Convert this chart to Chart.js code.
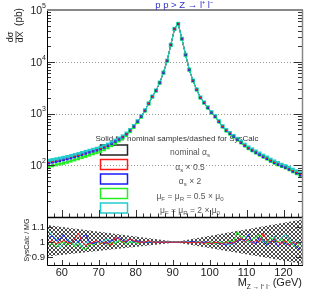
<!DOCTYPE html>
<html><head><meta charset="utf-8">
<script src="https://cdn.jsdelivr.net/npm/chart.js@4.4.0/dist/chart.umd.min.js"></script>
<style>
html,body{margin:0;padding:0;background:#fff;}
#wrap{position:relative;width:318px;height:291px;}
canvas{position:absolute;left:0;top:0;}
</style>
</head><body>
<div id="wrap"><canvas id="main" width="318" height="291"></canvas><canvas id="ratio" width="318" height="291"></canvas></div>
<script>
// ---------- data ----------
const binCenters = [56.5,57.5,58.5,59.5,60.5,61.5,62.5,63.5,64.5,65.5,66.5,67.5,68.5,69.5,70.5,71.5,72.5,73.5,74.5,75.5,76.5,77.5,78.5,79.5,80.5,81.5,82.5,83.5,84.5,85.5,86.5,87.5,88.5,89.5,90.5,91.5,92.5,93.5,94.5,95.5,96.5,97.5,98.5,99.5,100.5,101.5,102.5,103.5,104.5,105.5,106.5,107.5,108.5,109.5,110.5,111.5,112.5,113.5,114.5,115.5,116.5,117.5,118.5,119.5,120.5,121.5,122.5,123.5,124.5];

const nominal = [112,116,120,124,129,134,140,147,154,162, 171,180,189,198,208,222,240,262,290,318, 352,400,470,562,700,875,1140,1560,2120,2770, 3940,6140,10450,21200,43100,53800,27700,13600,7010,4310, 2890,2030,1620,1300,1045,876,700,560,470,410, 361,316,277,243,215,196,178,162,148,136, 123,113,105,98,92,85,78,72,66];
const alphaHalf = [113,117,121,125,130,135,141,148,155,163, 172,181,190,199,209,223,241,263,291,319, 353,401,471,563,701,876,1141,1561,2122,2772, 3942,6145,10460,21220,43120,53820,27710,13605,7015,4312, 2892,2032,1621,1301,1046,877,701,561,471,411, 362,317,278,244,216,197,179,163,149,137, 124,114,106,99,93,86,79,73,67];
const alphaTwice = [109,113,117,121,126,131,137,144,151,159, 168,177,186,195,205,219,237,259,287,315, 349,397,467,558,696,871,1136,1555,2115,2765, 3935,6135,10440,21180,43080,53780,27690,13590,7000,4300, 2880,2022,1612,1292,1038,870,695,556,466,406, 357,312,273,239,212,193,175,159,145,133, 121,111,103,96,90,83,76,70,64];
const muHalf = [95,98,102,106,110,115,121,127,134,141, 149,158,167,176,186,200,218,240,268,296, 330,378,448,540,678,855,1120,1540,2100,2750, 3920,6120,10420,21150,43000,53700,27650,13570,6990,4290, 2875,2015,1605,1285,1032,864,690,551,462,402, 354,309,271,237,210,191,173,158,144,132, 119,110,102,95,89,82,75,69,63];
const muTwice = [122,126,130,134,139,144,150,157,164,172, 181,190,199,208,218,232,250,271,299,327, 361,409,479,571,709,884,1150,1570,2130,2780, 3960,6160,10480,21250,43200,53900,27750,13630,7030,4330, 2905,2042,1632,1312,1056,886,709,568,478,418, 368,323,283,249,221,202,184,168,153,141, 128,118,110,102,96,89,82,76,70];

const ratioAlphaHalf = [1.00,1.01,0.99,1.00,1.01,1.00,0.99,1.02,1.06,1.00, 0.98,0.99,1.00,1.01,0.99,1.00,0.99,0.98,1.03,1.02, 1.00,1.01,1.02,1.01,1.00,1.00,1.00,1.01,1.00,1.00, 1.00,1.00,1.00,1.00,1.00,1.00,1.00,1.00,0.995,1.00, 0.995,1.00,0.99,1.00,0.99,1.00,0.995,0.99,1.00,0.99, 1.00,1.01,1.03,1.00,1.02,0.99,1.01,1.00,1.06,1.01, 0.99,1.02,1.00,0.99,1.01,0.98,1.00,0.99,1.00];
const ratioAlphaTwice = [1.03,1.04,1.01,1.02,1.05,1.01,0.99,1.02,1.00,1.03, 1.05,1.00,0.99,1.00,1.01,0.99,1.00,1.01,1.02,1.03, 1.01,1.00,1.02,1.00,1.01,1.00,1.00,1.00,1.00,1.00, 1.00,1.00,1.00,1.00,1.00,1.00,1.00,1.00,1.00,1.005, 1.00,0.995,1.00,1.00,0.99,1.00,0.99,0.99,0.98,1.00, 0.99,1.01,1.02,1.01,1.05,1.00,0.99,1.03,1.01,0.98, 1.00,1.02,0.97,1.00,0.99,0.98,1.00,0.97,0.95];
const ratioMuHalf = [0.98,0.99,0.97,0.99,1.00,0.98,1.00,0.97,0.99,0.96, 0.95,0.99,0.98,1.00,0.99,1.00,0.98,1.00,0.99,1.01, 1.00,0.99,1.00,1.00,0.99,1.00,1.00,1.00,1.00,1.00, 1.00,1.00,1.00,1.00,1.00,1.00,1.00,1.00,1.00,1.00, 1.00,0.995,1.00,0.99,1.00,0.99,1.00,0.995,1.00,1.01, 1.00,1.07,1.03,1.04,1.00,1.02,1.03,1.05,1.01,0.99, 1.03,1.01,1.00,1.02,0.99,1.01,0.98,0.97,0.99];
const ratioMuTwice = [1.07,1.04,1.02,0.96,0.99,1.02,1.00,0.98,1.01,0.97, 1.00,1.00,0.99,1.00,1.00,1.01,1.02,1.00,1.00,1.01, 1.00,1.02,1.00,1.00,1.00,1.00,1.00,1.00,1.00,1.00, 1.00,1.00,1.00,1.00,1.00,1.00,1.00,1.00,1.00,1.00, 1.00,1.00,0.995,1.00,1.00,0.99,1.00,1.00,0.99,0.98, 1.00,1.01,1.03,1.00,1.01,0.99,1.00,1.02,1.00,1.01, 0.99,1.04,1.00,1.03,1.05,1.02,0.99,1.01,0.98];

const bandX = [56, 91, 125];
const bandUp = [1.113, 1.003, 1.148];
const bandLo = [0.905, 0.997, 0.858];

const xTickLabels = [60,70,80,90,100,110,120];
const yDecades = [2,3,4,5];
const ratioTickLabels = [0.9,1,1.1];

const legendTitle = 'Solid for nominal samples/dashed for SysCalc';
const legendEntries = [
  [['nominal α'],['s',1]],
  [['α'],['s',1],[' × 0.5']],
  [['α'],['s',1],[' × 2']],
  [['μ'],['F',1],[' = μ'],['R',1],[' = 0.5 × μ'],['0',1]],
  [['μ'],['F',1],[' = μ'],['R',1],[' = 2 × μ'],['0',1]]
];

// ---------- style ----------
const FONT = '"Liberation Sans", Arial, Helvetica, sans-serif';
const C_BLACK='#222', C_RED='#ff1a1a', C_BLUE='#1a1aff', C_GREEN='#22ee22', C_CYAN='#22cccc';
const legendColors = [C_BLACK, C_RED, C_BLUE, C_GREEN, C_CYAN];

function pts(xs, ys){ return xs.map((x,i)=>({x:x, y:ys[i]})); }

function drawRich(ctx, parts, cx, cy, size, color){
  const sub = size*0.72;
  let w = 0;
  parts.forEach(p=>{ ctx.font = (p[1]?sub:size)+'px '+FONT; w += ctx.measureText(p[0]).width; });
  let x = cx - w/2;
  ctx.fillStyle = color; ctx.textBaseline='alphabetic'; ctx.textAlign='left';
  parts.forEach(p=>{
    ctx.font = (p[1]?sub:size)+'px '+FONT;
    ctx.fillText(p[0], x, cy + (p[1]? size*0.25 : 0));
    x += ctx.measureText(p[0]).width;
  });
}

const mainDeco = {
  id:'mainDeco',
  beforeDatasetsDraw(chart){
    const ctx = chart.ctx, a = chart.chartArea, ys = chart.scales.y;
    ctx.save();
    ctx.strokeStyle='#999'; ctx.lineWidth=1; ctx.setLineDash([1,2]);
    [2,3,4].forEach(e=>{
      const y = Math.round(ys.getPixelForValue(Math.pow(10,e)))+0.5;
      ctx.beginPath(); ctx.moveTo(a.left,y); ctx.lineTo(a.right,y); ctx.stroke();
    });
    ctx.setLineDash([]);
    ctx.fillStyle='#333'; ctx.font='8px '+FONT; ctx.textAlign='center'; ctx.textBaseline='middle';
    ctx.fillText(legendTitle, 177, 139);
    const rows=[150,164.5,179,193.5,208];
    legendEntries.forEach((parts,i)=>{
      ctx.strokeStyle=legendColors[i]; ctx.lineWidth=1.5;
      ctx.strokeRect(100.5, rows[i]-5, 27, 10);
      drawRich(ctx, parts, 190, rows[i]+5, 8.5, '#555');
    });
    ctx.restore();
  },
  afterDatasetsDraw(chart){
    const ctx = chart.ctx, a = chart.chartArea, ys = chart.scales.y, xs = chart.scales.x;
    ctx.save();
    ctx.strokeStyle='#333'; ctx.lineWidth=1;
    for(let e=1;e<5;e++){
      for(let m=1;m<10;m++){
        const v = m*Math.pow(10,e);
        const y = Math.round(ys.getPixelForValue(v))+0.5;
        const L = (m===1)?8:4;
        ctx.beginPath(); ctx.moveTo(a.left,y); ctx.lineTo(a.left+L,y);
        ctx.moveTo(a.right,y); ctx.lineTo(a.right-L,y); ctx.stroke();
      }
    }
    for(let v=56; v<=125; v+=2){
      const x = Math.round(xs.getPixelForValue(v))+0.5;
      const L = (v%10===0)?7:3.5;
      ctx.beginPath(); ctx.moveTo(x,a.bottom); ctx.lineTo(x,a.bottom-L); ctx.stroke();
    }
    ctx.strokeStyle='#000'; ctx.lineWidth=1;
    ctx.beginPath(); ctx.moveTo(a.left+0.5,a.top); ctx.lineTo(a.left+0.5,a.bottom); ctx.stroke();
    ctx.strokeStyle='#888'; ctx.lineWidth=2;
    ctx.beginPath(); ctx.moveTo(a.left,a.top); ctx.lineTo(a.right+1,a.top); ctx.stroke();
    ctx.lineWidth=1.5;
    ctx.beginPath(); ctx.moveTo(a.right+0.5,a.top); ctx.lineTo(a.right+0.5,a.bottom); ctx.stroke();
    ctx.fillStyle='#222'; ctx.textBaseline='middle';
    yDecades.forEach(e=>{
      const y = ys.getPixelForValue(Math.pow(10,e));
      ctx.font='7px '+FONT; ctx.textAlign='right';
      const sw = ctx.measureText(String(e)).width;
      ctx.fillText(String(e), 46, y-4);
      ctx.font='10.5px '+FONT;
      ctx.fillText('10', 46-sw, y+1);
    });
    ctx.fillStyle='#3535c8'; ctx.font='9.5px '+FONT; ctx.textAlign='center'; ctx.textBaseline='middle';
    ctx.fillText('p p > Z → l⁺ l⁻', 184, 5);
    ctx.save();
    ctx.translate(16,37); ctx.rotate(-Math.PI/2);
    ctx.fillStyle='#222'; ctx.textAlign='center'; ctx.textBaseline='middle';
    ctx.font='9px '+FONT;
    ctx.fillText('dσ',0,-5.5);
    ctx.fillText('dX',0,5);
    ctx.strokeStyle='#222'; ctx.lineWidth=0.8;
    ctx.beginPath(); ctx.moveTo(-6,0); ctx.lineTo(6,0); ctx.stroke();
    ctx.font='10px '+FONT;
    ctx.fillText('(pb)',20,3);
    ctx.restore();
    ctx.restore();
  }
};

// line-only datasets (drawn below), marker-only datasets (drawn above)
function lineOnly(label, data, color, order){
  return {label, data:pts(binCenters,data), borderColor:color, backgroundColor:color,
    pointRadius:0, borderWidth:1, order, fill:false};
}
function markOnly(label, data, color, r, order){
  return {label, data:pts(binCenters,data), borderColor:color, backgroundColor:color,
    pointBackgroundColor:color, pointBorderWidth:0, pointRadius:r, pointStyle:'rect',
    showLine:false, order, fill:false};
}

new Chart(document.getElementById('main'), {
  type:'line',
  data:{datasets:[
    lineOnly('nominal αs', nominal, C_BLACK, 15),
    lineOnly('αs × 0.5', alphaHalf, C_RED, 14),
    lineOnly('αs × 2', alphaTwice, C_BLUE, 13),
    lineOnly('μF = μR = 0.5 × μ0', muHalf, C_GREEN, 12),
    lineOnly('μF = μR = 2 × μ0', muTwice, C_CYAN, 11),
    markOnly('μF = μR = 2 × μ0', muTwice, C_CYAN, 2.9, 5),
    markOnly('μF = μR = 0.5 × μ0', muHalf, C_GREEN, 2.3, 4),
    markOnly('αs × 2', alphaTwice, C_BLUE, 1.7, 3),
    markOnly('αs × 0.5', alphaHalf, C_RED, 0.9, 2)
  ]},
  options:{
    responsive:false, animation:false, devicePixelRatio:1,
    layout:{padding:{left:47,right:16,top:10,bottom:74}},
    plugins:{legend:{display:false}, tooltip:{enabled:false}},
    scales:{
      x:{type:'linear', min:56, max:125, display:false},
      y:{type:'logarithmic', min:10, max:100000, display:false}
    },
    elements:{line:{tension:0}}
  },
  plugins:[mainDeco]
});

// ---------- ratio ----------
function makePattern(ctx){
  const c=document.createElement('canvas'); c.width=4; c.height=4;
  const g=c.getContext('2d'); g.fillStyle='#fff'; g.fillRect(0,0,4,4);
  g.fillStyle='#4a4a4a';
  [[0,0],[1,1],[2,2],[3,3],[3,0],[2,1],[1,2],[0,3]].forEach(p=>g.fillRect(p[0],p[1],1,1));
  return ctx.createPattern(c,'repeat');
}
const rc = document.getElementById('ratio');
const pattern = makePattern(rc.getContext('2d'));

const ratioDeco = {
  id:'ratioDeco',
  afterDatasetsDraw(chart){
    const ctx = chart.ctx, a = chart.chartArea, ys = chart.scales.y, xs = chart.scales.x;
    ctx.save();
    ctx.strokeStyle='#333'; ctx.lineWidth=1;
    for(let v=56; v<=125; v+=2){
      const x = Math.round(xs.getPixelForValue(v))+0.5;
      const L = (v%10===0)?5:2.5;
      ctx.beginPath(); ctx.moveTo(x,a.bottom); ctx.lineTo(x,a.bottom-L); ctx.stroke();
    }
    ratioTickLabels.forEach(v=>{
      const y = Math.round(ys.getPixelForValue(v))+0.5;
      ctx.beginPath(); ctx.moveTo(a.left,y); ctx.lineTo(a.left+6,y);
      ctx.moveTo(a.right,y); ctx.lineTo(a.right-6,y); ctx.stroke();
    });
    ctx.strokeStyle='#000'; ctx.lineWidth=1;
    ctx.beginPath();
    ctx.moveTo(a.left+0.5,a.top); ctx.lineTo(a.left+0.5,a.bottom+0.5); ctx.lineTo(a.right+1,a.bottom+0.5);
    ctx.stroke();
    ctx.lineWidth=1.5;
    ctx.beginPath(); ctx.moveTo(a.left,a.top+0.5); ctx.lineTo(a.right+1,a.top+0.5); ctx.stroke();
    ctx.strokeStyle='#888'; ctx.lineWidth=1.5;
    ctx.beginPath(); ctx.moveTo(a.right+0.5,a.top); ctx.lineTo(a.right+0.5,a.bottom); ctx.stroke();
    ctx.fillStyle='#222'; ctx.font='9.5px '+FONT; ctx.textAlign='right'; ctx.textBaseline='middle';
    ratioTickLabels.forEach(v=>{
      ctx.fillText(String(v), 45, ys.getPixelForValue(v));
    });
    ctx.font='11px '+FONT; ctx.textAlign='center'; ctx.textBaseline='middle';
    xTickLabels.forEach(v=>{ ctx.fillText(String(v), xs.getPixelForValue(v), 273); });
    ctx.save(); ctx.translate(27,240); ctx.rotate(-Math.PI/2);
    ctx.font='7px '+FONT; ctx.textAlign='center'; ctx.textBaseline='middle';
    ctx.fillText('SysCalc / MG',0,0); ctx.restore();
    const big='11px '+FONT, small='6.5px '+FONT;
    ctx.textAlign='left'; ctx.textBaseline='alphabetic';
    ctx.font=big; const wG=ctx.measureText(' (GeV)').width, wM=ctx.measureText('M').width;
    ctx.font=small; const wS=ctx.measureText('Z → l⁺ l⁻').width;
    let x = 302 - wG - wS - wM;
    ctx.font=big; ctx.fillText('M', x, 286); x+=wM;
    ctx.font=small; ctx.fillText('Z → l⁺ l⁻', x, 289); x+=wS;
    ctx.font=big; ctx.fillText(' (GeV)', x, 286);
    ctx.restore();
  }
};

function ratioDs(label, data, color, order){
  return {label, data:pts(binCenters,data), borderColor:color, borderWidth:1, pointRadius:0, fill:false, order};
}

new Chart(rc, {
  type:'line',
  data:{datasets:[
    {label:'band up', data:pts(bandX,bandUp), borderWidth:0, borderColor:'rgba(0,0,0,0)', pointRadius:0, fill:'+1', backgroundColor:pattern, order:10},
    {label:'band lo', data:pts(bandX,bandLo), borderWidth:0, borderColor:'rgba(0,0,0,0)', pointRadius:0, fill:false, order:9},
    ratioDs('μF = μR = 2 × μ0', ratioMuTwice, C_CYAN, 5),
    ratioDs('μF = μR = 0.5 × μ0', ratioMuHalf, C_GREEN, 4),
    ratioDs('αs × 2', ratioAlphaTwice, C_BLUE, 3),
    ratioDs('αs × 0.5', ratioAlphaHalf, C_RED, 2)
  ]},
  options:{
    responsive:false, animation:false, devicePixelRatio:1,
    layout:{padding:{left:47,right:16,top:217,bottom:26}},
    plugins:{legend:{display:false}, tooltip:{enabled:false}},
    scales:{
      x:{type:'linear', min:56, max:125, display:false},
      y:{type:'linear', min:0.85, max:1.165, display:false}
    },
    elements:{line:{tension:0}}
  },
  plugins:[ratioDeco]
});
</script>
</body></html>
